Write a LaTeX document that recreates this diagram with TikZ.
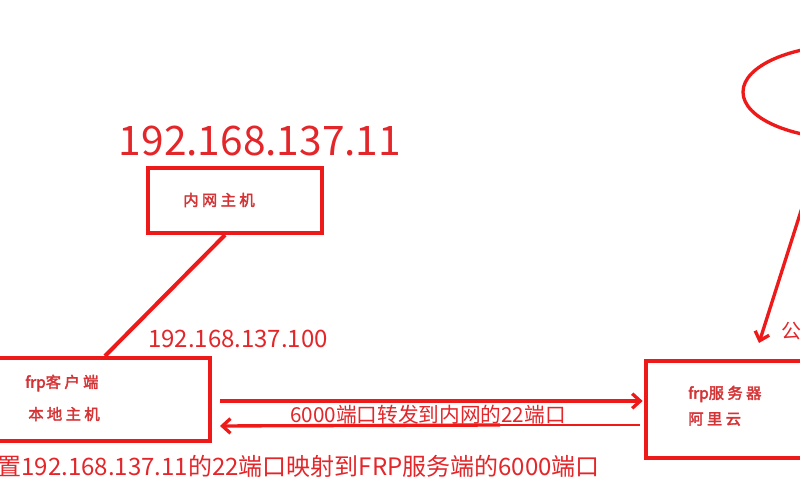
\documentclass[tikz,border=0pt]{standalone}
\usepackage{fontspec}
\setmainfont{Noto Sans CJK SC}
\newfontfamily\boxcjk{Noto Sans CJK SC}[FakeBold=2.5,LetterSpace=22]
\newfontfamily\boxlat{Noto Sans CJK SC}[FakeBold=3]
\usetikzlibrary{arrows.meta,calc}
\definecolor{lred}{HTML}{EE1A1A}
\definecolor{tred}{HTML}{E2262A}
\definecolor{bred}{HTML}{D43436}
\begin{document}
\begin{tikzpicture}[x=0.75pt,y=-0.75pt,
  box/.style={draw=lred,line width=3pt,rectangle,inner sep=0pt},
  conn/.style={draw=lred,line width=3pt},
  arr/.style={draw=lred,line width=3pt,-{Straight Barb[length=6pt,width=11pt,line width=2.5pt]}},
  lbl/.style={text=tred,inner sep=0pt},
  btxt/.style={text=bred,inner sep=0pt,font=\boxcjk\fontsize{11.5pt}{13pt}\selectfont}]
\useasboundingbox (0,0) rectangle (800,500);
% boxes
\node[box,minimum width=130.5pt,minimum height=48.75pt] (inner) at (235,200.5) {};
\node[box,minimum width=165pt,minimum height=62.25pt] (local) at (100,399.5) {};
\node[box,minimum width=130.5pt,minimum height=72.75pt] (server) at (733,409.5) {};
% box texts
\node[btxt,anchor=west] (tinner) at (183,200) {内网主机};
\node[btxt,anchor=west] (tl1) at (25,383) {{\boxlat frp}客户端};
\node[btxt,anchor=west] (tl2) at (28,414) {本地主机};
\node[btxt,anchor=west] (ts1) at (688,394) {{\boxlat frp}服务器};
\node[btxt,anchor=west] (ts2) at (688,419) {阿里云};
% labels
\node[lbl,font=\fontsize{30.5pt}{32pt}\selectfont] (ip11) at (260,141) {192.168.137.11};
\node[lbl,font=\fontsize{18pt}{20pt}\selectfont] (ip100) at (238,339) {192.168.137.100};
\node[lbl,font=\fontsize{15.5pt}{17pt}\selectfont] (fwd) at (428,415) {6000端口转发到内网的22端口};
\node[lbl,font=\fontsize{18pt}{20pt}\selectfont,anchor=east] (map) at (600,466) {置192.168.137.11的22端口映射到FRP服务端的6000端口};
\node[lbl,font=\fontsize{15pt}{17pt}\selectfont,anchor=west] (pub) at (781,331) {公};
% connectors
\draw[conn] ($(inner.south)+(-10,0)$) -- ($(local.north)+(5,0)$);
\coordinate (ya) at (0,401);
\coordinate (yb) at (0,426);
\coordinate (mid) at (500,425);
\draw[arr,shorten <=6pt,shorten >=1pt] (local.east |- ya) -- (server.west |- ya);
\draw[draw=lred,line width=1pt] ($(server.west |- mid)+(-4,0)$) -- (mid);
\draw[arr,line width=2.5pt,shorten >=6pt] (mid) -- (local.east |- yb);
% ellipse and arrow
\draw[lred,line width=2.5pt] (850,92) ellipse [x radius=80.25pt,y radius=35.25pt];
\coordinate (cfrom) at (814,170);
\coordinate (cto) at (759,343);
\draw[arr,line width=2.5pt] (cfrom) -- (cto);
\end{tikzpicture}
\end{document}
